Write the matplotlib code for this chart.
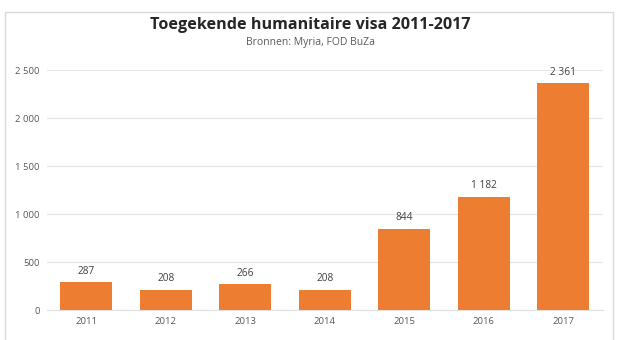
import matplotlib
matplotlib.use("Agg")
import matplotlib.pyplot as plt
from matplotlib.patches import Rectangle

jaren = ["2011", "2012", "2013", "2014", "2015", "2016", "2017"]
visa = [287, 208, 266, 208, 844, 1182, 2361]
yticks = [0, 500, 1000, 1500, 2000, 2500]
ylabels = ["0", "500", "1 000", "1 500", "2 000", "2 500"]

ORANJE = "#ED7D31"
GRIJS = "#595959"

plt.rcParams["font.family"] = ["Open Sans", "DejaVu Sans"]

fig = plt.figure(figsize=(6.2, 3.4), dpi=100)
W, H = 620, 340

# kader rond de grafiek
fig.patches.append(Rectangle((5 / W, -0.05), 608 / W, 1.05 - 12 / H,
                             transform=fig.transFigure, fill=False,
                             edgecolor="#d9d9d9", linewidth=1.0))

ax = fig.add_axes([46.5 / W, 1 - 310 / H, (603 - 46.5) / W, 240 / H])

x = range(len(jaren))
bars = ax.bar(x, visa, width=0.66, color=ORANJE, zorder=3)
for b, v in zip(bars, visa):
    lab = f"{v:,}".replace(",", " ")
    ax.annotate(lab, (b.get_x() + b.get_width() / 2, v), xytext=(0, 4),
                textcoords="offset points", ha="center", va="bottom",
                fontsize=7.3, color="#404040")

ax.set_xlim(-0.5, len(jaren) - 0.5)
ax.set_ylim(0, 2500)
ax.set_xticks(list(x))
ax.set_xticklabels(jaren, fontsize=6.8, color=GRIJS)
ax.set_yticks(yticks)
ax.set_yticklabels(ylabels, fontsize=6.8, color=GRIJS)
ax.tick_params(length=0, pad=5)
ax.grid(axis="y", color="#e6e6e6", linewidth=0.8, zorder=0)
for s in ["top", "right", "left"]:
    ax.spines[s].set_visible(False)
ax.spines["bottom"].set_color("#e0e0e0")
ax.spines["bottom"].set_linewidth(0.8)

fig.text(0.5, 1 - 25 / H, "Toegekende humanitaire visa 2011-2017",
         ha="center", va="center", fontsize=11.6, fontweight="bold", color="#262626")
fig.text(0.5, 1 - 43 / H, "Bronnen: Myria, FOD BuZa",
         ha="center", va="center", fontsize=7.5, color=GRIJS)

fig.savefig("out.png", dpi=100)
